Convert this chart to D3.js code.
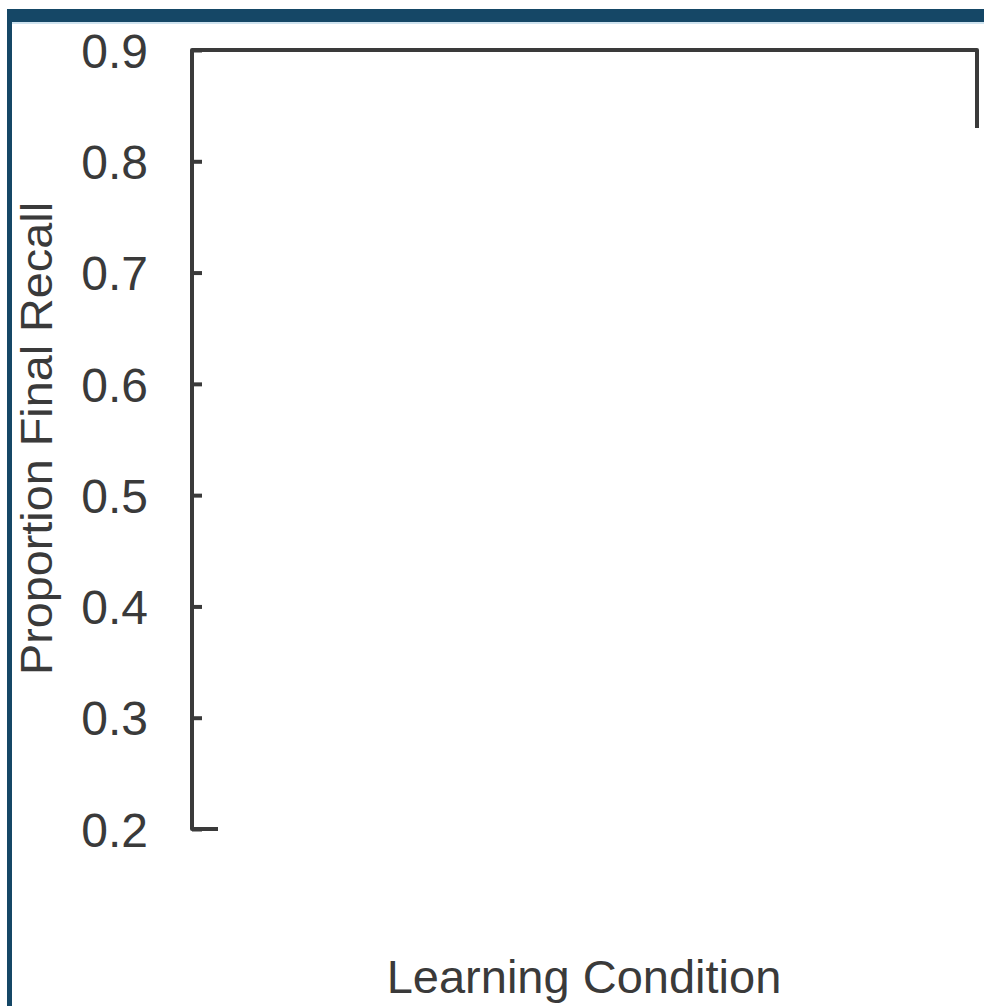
<!DOCTYPE html>
<html>
<head>
<meta charset="utf-8">
<script src="https://cdn.jsdelivr.net/npm/d3@7.9.0/dist/d3.min.js"></script>
<style>
  html, body { margin: 0; padding: 0; background: #fff; }
  svg { display: block; font-family: "Liberation Sans", Arial, sans-serif; }
</style>
</head>
<body>
<svg id="chart" width="984" height="1006"></svg>
<script>
// y axis values
const yTicks = [0.2, 0.3, 0.4, 0.5, 0.6, 0.7, 0.8, 0.9];
const yDomain = [0.2, 0.9];
const yLabel = 'Proportion Final Recall';
const xLabel = 'Learning Condition';
// where the partial right frame line stops
const frameRightStop = 0.83;

const svg = d3.select('#chart');

// page frame (dark blue band on top and left)
svg.append('rect').attr('x', 7).attr('y', 9).attr('width', 977).attr('height', 13).attr('fill', '#154766');
svg.append('rect').attr('x', 7).attr('y', 9).attr('width', 5).attr('height', 997).attr('fill', '#154766');
svg.append('rect').attr('x', 12).attr('y', 22).attr('width', 972).attr('height', 2).attr('fill', '#cfe3ef');

const plotLeft = 192, plotRight = 977, plotTop = 50, plotBottom = 829;

const y = d3.scaleLinear().domain(yDomain).range([plotBottom, plotTop]);

const ink = '#3a3a3a';

// y axis with inward ticks
const yAxis = svg.append('g')
    .attr('transform', `translate(${plotLeft},0)`)
    .call(d3.axisLeft(y).tickValues(yTicks).tickFormat(d3.format('.1f')).tickSize(-10).tickSizeOuter(0));
yAxis.select('.domain').remove();
yAxis.selectAll('.tick line').attr('stroke', ink).attr('stroke-width', 4);
yAxis.selectAll('.tick text')
    .attr('x', -44)
    .attr('dy', '0.36em')
    .attr('fill', ink)
    .attr('font-size', 48)
    .attr('font-family', '"Liberation Sans", Arial, sans-serif');

// frame: left spine, top line, partial right, short bottom
const frame = d3.path();
frame.moveTo(plotLeft + 26, plotBottom);
frame.lineTo(plotLeft, plotBottom);
frame.lineTo(plotLeft, y(0.9));
frame.lineTo(plotRight, y(0.9));
frame.lineTo(plotRight, y(frameRightStop));
svg.append('path')
    .attr('d', frame.toString())
    .attr('fill', 'none')
    .attr('stroke', ink)
    .attr('stroke-width', 4)
    .attr('stroke-linejoin', 'round');

// axis titles
svg.append('text')
    .attr('transform', `translate(52,${(202 + 675) / 2}) rotate(-90)`)
    .attr('text-anchor', 'middle')
    .attr('font-size', 44)
    .attr('fill', ink)
    .attr('textLength', 473)
    .attr('lengthAdjust', 'spacingAndGlyphs')
    .text(yLabel);

svg.append('text')
    .attr('x', 584)
    .attr('y', 993)
    .attr('text-anchor', 'middle')
    .attr('font-size', 47)
    .attr('fill', ink)
    .text(xLabel);
</script>
</body>
</html>
